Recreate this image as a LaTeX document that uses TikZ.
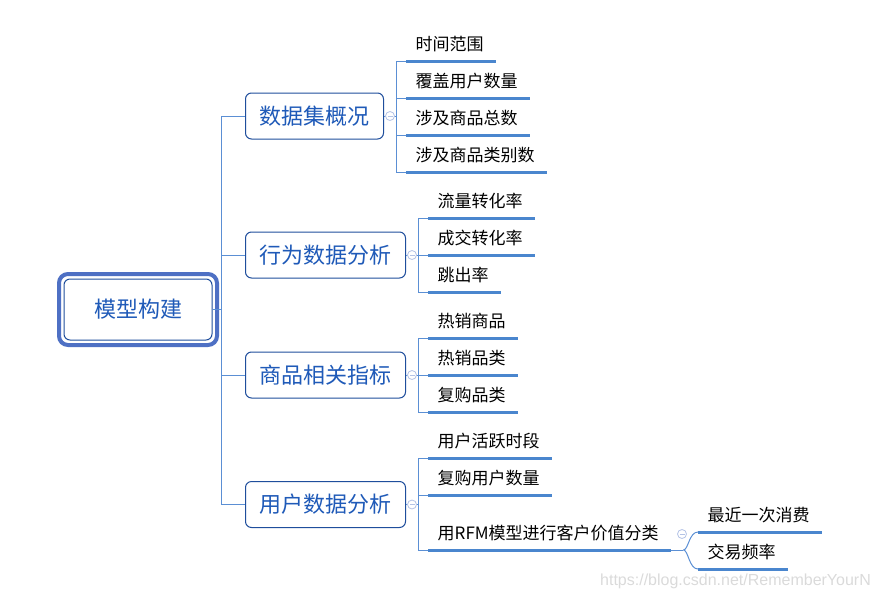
\documentclass[tikz,border=0pt]{standalone}
\usepackage{fontspec}
\setmainfont{Noto Sans CJK SC}
\newfontfamily\wmfont{Liberation Sans}
\usetikzlibrary{calc}
\definecolor{connc}{HTML}{5B8FD4}
\definecolor{ulc}{HTML}{4A86CE}
\definecolor{boxc}{HTML}{1F4E9C}
\definecolor{txtc}{HTML}{1F5AB8}
\definecolor{rootout}{HTML}{4E70C4}
\definecolor{foldc}{HTML}{B4C3E6}
\definecolor{wmc}{HTML}{DADADA}
\begin{document}
\begin{tikzpicture}[x=1pt,y=-1pt,
 conn/.style={draw=connc, line width=1pt},
 uline/.style={draw=ulc, line width=3pt},
 rootbox/.style={draw=boxc, line width=1pt, rounded corners=6pt, fill=white, text=txtc,
   font=\fontsize{22pt}{26pt}\selectfont, minimum width=148pt, minimum height=61pt,
   inner sep=0pt, text height=18pt, text depth=1.5pt},
 rootframe/.style={draw=rootout, line width=4pt, rounded corners=9pt},
 branch/.style={draw=boxc, line width=1pt, rounded corners=6pt, fill=white, text=txtc,
   font=\fontsize{22pt}{26pt}\selectfont, minimum height=46pt, inner xsep=14pt, inner ysep=0pt,
   text height=18pt, text depth=1.5pt},
 leaf/.style={anchor=south west, inner xsep=0pt, inner ysep=10pt, text depth=0pt,
   font=\fontsize{17pt}{20pt}\selectfont,
   execute at begin node={\hspace*{9.5pt}}, execute at end node={\hspace*{12.5pt}},
   append after command={(\tikzlastnode.south west) edge[uline] (\tikzlastnode.south east)}},
 fold/.style={circle, draw=foldc, fill=white, line width=0.8pt, minimum size=9pt, inner sep=0pt,
   path picture={\draw[foldc, line width=0.8pt] ([xshift=-2.5pt]path picture bounding box.center) -- ([xshift=2.5pt]path picture bounding box.center);}},
 wm/.style={anchor=west, text=wmc, inner sep=0pt, font=\wmfont\fontsize{16pt}{19pt}\selectfont}
]
\useasboundingbox (0,0) rectangle (878,600);

% root
\node[rootbox] (r) at (138,309.5) {模型构建};
\draw[rootframe] ([shift={(-4.5,4.5)}]r.south west) rectangle ([shift={(4.5,-4.5)}]r.north east);

% branches
\node[branch, anchor=west] (b1) at (245,116) {数据集概况};
\node[branch, anchor=west] (b2) at (245,255) {行为数据分析};
\node[branch, anchor=west] (b3) at (245,375) {商品相关指标};
\node[branch, anchor=west] (b4) at (245,504.5) {用户数据分析};

% leaves
\node[leaf] (k11) at (406,61) {时间范围};
\node[leaf] (k12) at (406,98) {覆盖用户数量};
\node[leaf] (k13) at (406,135) {涉及商品总数};
\node[leaf] (k14) at (406,172) {涉及商品类别数};

\node[leaf] (k21) at (428,218) {流量转化率};
\node[leaf] (k22) at (428,255) {成交转化率};
\node[leaf] (k23) at (428,292) {跳出率};

\node[leaf] (k31) at (428,338) {热销商品};
\node[leaf] (k32) at (428,375) {热销品类};
\node[leaf] (k33) at (428,412) {复购品类};

\node[leaf] (k41) at (428,458) {用户活跃时段};
\node[leaf] (k42) at (428,495) {复购用户数量};
\node[leaf] (k43) at (428,550) {用RFM模型进行客户价值分类};

\node[leaf] (k51) at (698,532) {最近一次消费};
\node[leaf] (k52) at (698,569) {交易频率};

% trunk
\coordinate (t) at (221,309.5);
\draw[conn] (r.east) -- (t);
\draw[conn] (t) |- (b1.west);
\draw[conn] (t) |- (b2.west);
\draw[conn] (t) |- (b3.west);
\draw[conn] (t) |- (b4.west);

% brackets
\coordinate (j1) at ($(b1.east)+(12,0)$);
\coordinate (j2) at ($(b2.east)+(12,0)$);
\coordinate (j3) at ($(b3.east)+(12,0)$);
\coordinate (j4) at ($(b4.east)+(12,0)$);
\draw[conn] (b1.east) -- (j1);
\draw[conn] (b2.east) -- (j2);
\draw[conn] (b3.east) -- (j3);
\draw[conn] (b4.east) -- (j4);
\foreach \k in {k11,k12,k13,k14} \draw[conn] (j1) |- (\k.south west);
\foreach \k in {k21,k22,k23} \draw[conn] (j2) |- (\k.south west);
\foreach \k in {k31,k32,k33} \draw[conn] (j3) |- (\k.south west);
\foreach \k in {k41,k42,k43} \draw[conn] (j4) |- (\k.south west);

\coordinate (j5) at ($(k43.south east)+(12,0)$);
\draw[conn] (k43.south east) -- (j5);
\draw[conn] (j5) .. controls ($(j5)+(5,0)$) and ($(k51.south west)+(-9,0)$) .. (k51.south west);
\draw[conn] (j5) .. controls ($(j5)+(5,0)$) and ($(k52.south west)+(-9,0)$) .. (k52.south west);

% fold markers
\node[fold] (f1) at ($(b1.east)+(6,0)$) {};
\node[fold] (f2) at ($(b2.east)+(6,0)$) {};
\node[fold] (f3) at ($(b3.east)+(6,0)$) {};
\node[fold] (f4) at ($(b4.east)+(6,0)$) {};
\node[fold] (f5) at (682,534) {};

% watermark
\node[wm] (w) at (600,581) {https://blog.csdn.net/RememberYourN};
\end{tikzpicture}
\end{document}
